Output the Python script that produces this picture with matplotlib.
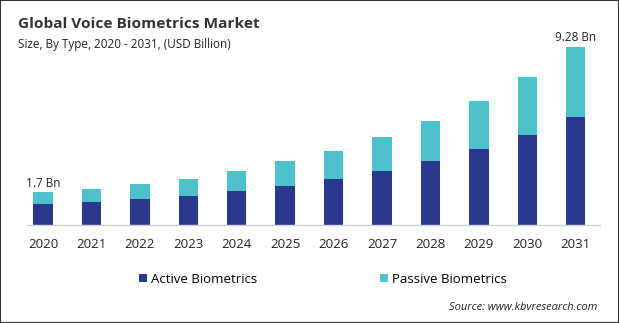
import matplotlib.pyplot as plt
from matplotlib.patches import Rectangle

plt.rcParams['font.family'] = ['Open Sans', 'DejaVu Sans']

# Values (USD Billion)
years = ['2020', '2021', '2022', '2023', '2024', '2025',
         '2026', '2027', '2028', '2029', '2030', '2031']
active = [1.11, 1.20, 1.36, 1.51, 1.77, 2.03, 2.40, 2.82, 3.34, 3.96, 4.69, 5.63]
passive = [0.59, 0.68, 0.78, 0.89, 1.05, 1.31, 1.46, 1.77, 2.08, 2.51, 3.03, 3.65]
series_names = ['Active Biometrics', 'Passive Biometrics']
colors = ['#2B388F', '#4EC2CC']
first_label = '1.7 Bn'
last_label = '9.28 Bn'

fig = plt.figure(figsize=(6.19, 3.23), dpi=100)
ax = fig.add_axes([0.0436, 0.3034, 0.9257, 0.594])

x = range(len(years))
b1 = ax.bar(x, active, width=0.4, color=colors[0], label=series_names[0])
b2 = ax.bar(x, passive, width=0.4, bottom=active, color=colors[1], label=series_names[1])

totals = [a + p for a, p in zip(active, passive)]
ax.text(0, totals[0] + 0.15, first_label, ha='center', va='bottom', fontsize=8.5, color='#222222')
ax.text(len(years) - 1, totals[-1] + 0.15, last_label, ha='center', va='bottom', fontsize=8.5, color='#222222')

ax.set_xlim(-0.33, 11.5)
ax.set_ylim(0, 10)
ax.set_xticks(list(x))
ax.set_xticklabels(years, fontsize=9.5, color='#222222')
ax.tick_params(axis='x', length=0, pad=9)
ax.set_yticks([])
for side in ['top', 'right', 'left']:
    ax.spines[side].set_visible(False)
ax.spines['bottom'].set_color('#d0d0d0')
ax.spines['bottom'].set_linewidth(1)

fig.text(0.029, 0.927, 'Global Voice Biometrics Market', fontsize=11.1, fontweight='bold',
         color='#333333', va='center')
fig.text(0.029, 0.862, 'Size, By Type, 2020 - 2031, (USD Billion)', fontsize=8.5,
         color='#222222', va='center')

leg = fig.legend(handles=[b1, b2], labels=series_names, ncol=2, loc='center left',
                 bbox_to_anchor=(0.206, 0.135), frameon=False, fontsize=9.5,
                 handlelength=0.6, handleheight=0.6, handletextpad=0.3, columnspacing=9.3)

fig.text(0.965, 0.047, 'Source: www.kbvresearch.com', fontsize=8, style='italic',
         color='#222222', ha='right', va='center')

fig.patches.append(Rectangle((0, 0), 1, 1, transform=fig.transFigure, fill=False,
                             edgecolor='#333333', linewidth=1.5))

fig.savefig('out.png', dpi=100)
